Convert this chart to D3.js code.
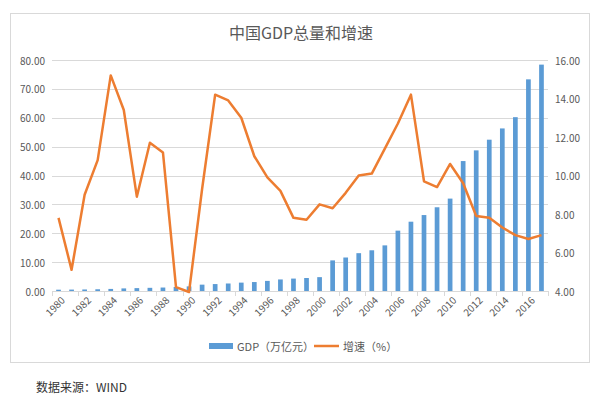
<!DOCTYPE html>
<html>
<head>
<meta charset="utf-8">
<script src="https://cdn.jsdelivr.net/npm/d3@7"></script>
<style>
  html, body { margin: 0; padding: 0; background: #fff; }
  text { font-family: "Noto Sans CJK SC", "Noto Sans", sans-serif; }
</style>
</head>
<body>
<div id="chart"></div>
<script>
const years = d3.range(1980, 2018).map(String);
// GDP 万亿元
const gdp = [0.45, 0.49, 0.53, 0.6, 0.72, 0.9, 1.0, 1.1, 1.2, 1.4,
  1.6, 2.2, 2.4, 2.6, 2.9, 3.1, 3.5, 4.0, 4.3, 4.5,
  4.8, 10.6, 11.6, 13.1, 14.1, 15.8, 20.9, 24.0, 26.3, 29.0,
  32.0, 45.0, 48.7, 52.4, 56.3, 60.2, 73.3, 78.4];
// 增速 %
const growth = [7.8, 5.1, 9.0, 10.8, 15.2, 13.4, 8.9, 11.7, 11.2, 4.2,
  3.95, 9.3, 14.2, 13.9, 13.0, 11.0, 9.9, 9.2, 7.8, 7.7,
  8.5, 8.3, 9.1, 10.0, 10.1, 11.4, 12.7, 14.2, 9.7, 9.4,
  10.6, 9.6, 7.9, 7.8, 7.3, 6.9, 6.7, 6.9];
const leftTicks = [0, 10, 20, 30, 40, 50, 60, 70, 80];
const rightTicks = [4, 6, 8, 10, 12, 14, 16];

const W = 600, H = 398;
const plot = { left: 52, right: 548, top: 60, bottom: 291 };
const grey = '#595959';

const svg = d3.select('#chart')
  .append('svg')
  .attr('width', W)
  .attr('height', H);

svg.append('rect')
  .attr('width', W).attr('height', H)
  .attr('fill', '#fff');

// chart frame
svg.append('rect')
  .attr('x', 10.5).attr('y', 13.5)
  .attr('width', 579).attr('height', 349)
  .attr('fill', 'none')
  .attr('stroke', '#d9d9d9');

svg.append('text')
  .attr('x', 301).attr('y', 32)
  .attr('text-anchor', 'middle')
  .attr('dominant-baseline', 'central')
  .attr('fill', grey)
  .style('font-size', '16px')
  .text('中国GDP总量和增速');

const x = d3.scaleBand()
  .domain(years)
  .range([plot.left, plot.right])
  .paddingInner(0.64)
  .paddingOuter(0.32);

const step = x.step();
const cx = (d) => x(d) + x.bandwidth() / 2;

const yL = d3.scaleLinear().domain([0, 80]).range([plot.bottom, plot.top]);
const yR = d3.scaleLinear().domain([4, 16]).range([plot.bottom, plot.top]);

// gridlines
svg.append('g')
  .selectAll('line')
  .data(leftTicks.slice(1))
  .enter()
  .append('line')
    .attr('x1', plot.left).attr('x2', plot.right)
    .attr('y1', (d) => Math.round(yL(d)) + 0.5)
    .attr('y2', (d) => Math.round(yL(d)) + 0.5)
    .attr('stroke', '#d9d9d9');

// left axis labels
svg.append('g')
  .selectAll('text')
  .data(leftTicks)
  .enter()
  .append('text')
    .attr('x', 45)
    .attr('y', (d) => yL(d))
    .attr('text-anchor', 'end')
    .attr('dominant-baseline', 'central')
    .attr('fill', grey)
    .style('font-size', '10px')
    .text((d) => d3.format('.2f')(d));

// right axis labels
svg.append('g')
  .selectAll('text')
  .data(rightTicks)
  .enter()
  .append('text')
    .attr('x', 555)
    .attr('y', (d) => yR(d))
    .attr('text-anchor', 'start')
    .attr('dominant-baseline', 'central')
    .attr('fill', grey)
    .style('font-size', '10px')
    .text((d) => d3.format('.2f')(d));

// bars
svg.append('g')
  .selectAll('rect')
  .data(years)
  .enter()
  .append('rect')
    .attr('x', (d) => x(d))
    .attr('width', x.bandwidth())
    .attr('y', (d, i) => yL(gdp[i]))
    .attr('height', (d, i) => yL(0) - yL(gdp[i]))
    .attr('fill', '#5B9BD5');

// x axis line + tick marks every 2 categories
svg.append('line')
  .attr('x1', plot.left).attr('x2', plot.right)
  .attr('y1', plot.bottom + 0.5).attr('y2', plot.bottom + 0.5)
  .attr('stroke', '#d9d9d9');

svg.append('g')
  .selectAll('line')
  .data(d3.range(0, years.length + 1, 2))
  .enter()
  .append('line')
    .attr('x1', (i) => Math.round(plot.left + i * step) + 0.5)
    .attr('x2', (i) => Math.round(plot.left + i * step) + 0.5)
    .attr('y1', plot.bottom)
    .attr('y2', plot.bottom + 5)
    .attr('stroke', '#d9d9d9');

// growth line
svg.append('path')
  .datum(years)
  .attr('fill', 'none')
  .attr('stroke', '#ED7D31')
  .attr('stroke-width', 2.5)
  .attr('stroke-linejoin', 'round')
  .attr('d', d3.line()
    .x((d) => cx(d))
    .y((d, i) => yR(growth[i])));

// x labels
svg.append('g')
  .selectAll('text')
  .data(years.filter((d, i) => i % 2 === 0))
  .enter()
  .append('text')
    .attr('transform', (d) => `translate(${cx(d) + 4},${plot.bottom + 7}) rotate(-45)`)
    .attr('text-anchor', 'end')
    .attr('dominant-baseline', 'central')
    .attr('fill', grey)
    .style('font-size', '10px')
    .text((d) => d);

// legend
const lg = svg.append('g').attr('transform', 'translate(0,346)');
lg.append('rect')
  .attr('x', 209).attr('y', -3)
  .attr('width', 24).attr('height', 6)
  .attr('fill', '#5B9BD5');
lg.append('text')
  .attr('x', 237).attr('y', 0)
  .attr('dominant-baseline', 'central')
  .attr('fill', grey)
  .style('font-size', '11px')
  .text('GDP（万亿元）');
lg.append('line')
  .attr('x1', 314).attr('x2', 339)
  .attr('y1', 0).attr('y2', 0)
  .attr('stroke', '#ED7D31')
  .attr('stroke-width', 2.5);
lg.append('text')
  .attr('x', 343).attr('y', 0)
  .attr('dominant-baseline', 'central')
  .attr('fill', grey)
  .style('font-size', '11px')
  .text('增速（%）');

// source
svg.append('text')
  .attr('x', 36).attr('y', 386)
  .attr('dominant-baseline', 'central')
  .attr('fill', '#333')
  .style('font-size', '12px')
  .text('数据来源：WIND');
</script>
</body>
</html>
